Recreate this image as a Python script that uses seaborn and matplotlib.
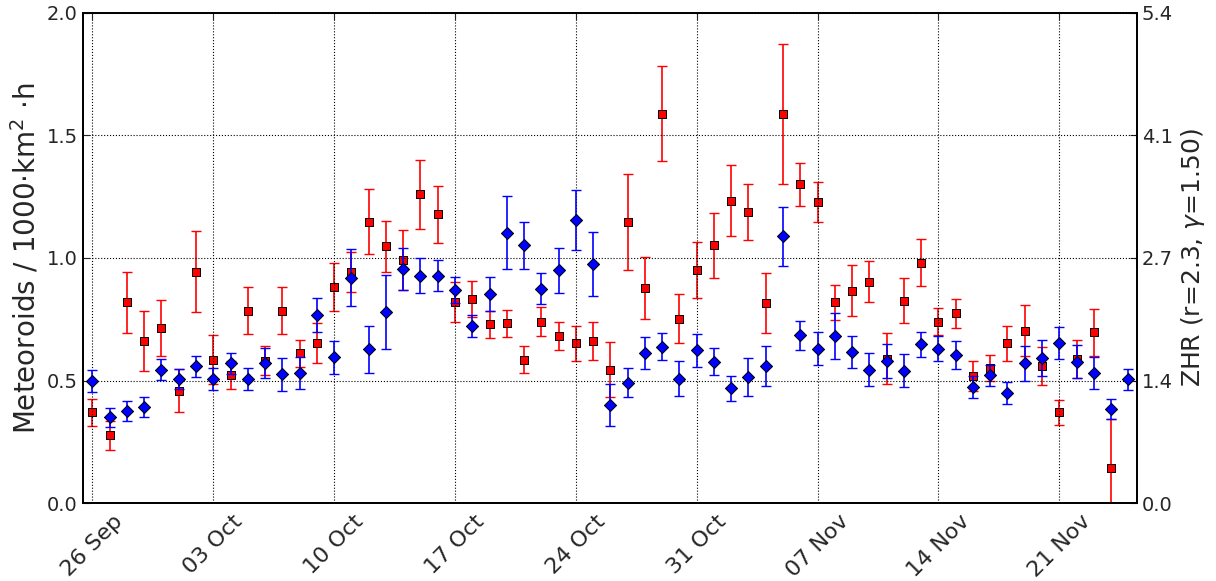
import numpy as np
import pandas as pd
import matplotlib
matplotlib.use("Agg")
import matplotlib.pyplot as plt
import matplotlib.dates as mdates
import seaborn as sns

# data: one value per day starting 26 Sep
start = "2013-09-26"
flux = [0.498, 0.350, 0.376, 0.392, 0.544, 0.507, 0.558, 0.507, 0.571, 0.507,
        0.571, 0.525, 0.531, 0.767, 0.595, 0.920, 0.627, 0.780, 0.955, 0.927,
        0.928, 0.868, 0.722, 0.853, 1.103, 1.052, 0.875, 0.950, 1.155, 0.974,
        0.401, 0.491, 0.611, 0.638, 0.507, 0.623, 0.577, 0.469, 0.514, 0.560,
        1.088, 0.684, 0.630, 0.680, 0.616, 0.544, 0.581, 0.540, 0.649, 0.630,
        0.605, 0.475, 0.522, 0.450, 0.570, 0.592, 0.652, 0.576, 0.532, 0.384, 0.505]
flux_err = [0.045, 0.038, 0.042, 0.039, 0.043, 0.041, 0.043, 0.044, 0.043, 0.045,
            0.060, 0.066, 0.065, 0.071, 0.067, 0.116, 0.095, 0.150, 0.084, 0.071,
            0.063, 0.053, 0.046, 0.071, 0.148, 0.095, 0.063, 0.091, 0.121, 0.131,
            0.086, 0.060, 0.065, 0.056, 0.071, 0.068, 0.054, 0.051, 0.079, 0.081,
            0.120, 0.058, 0.067, 0.094, 0.064, 0.067, 0.069, 0.067, 0.051, 0.052,
            0.058, 0.045, 0.043, 0.046, 0.072, 0.075, 0.065, 0.067, 0.065, 0.042, 0.044]
zhr = [1.00, 0.75, 2.21, 1.79, 1.93, 1.24, 2.55, 1.58, 1.41, 2.12,
       1.57, 2.12, 1.65, 1.76, 2.38, 2.55, 3.10, 2.83, 2.68, 3.40,
       3.18, 2.22, 2.25, 1.97, 1.98, 1.58, 2.00, 1.84, 1.76, 1.79,
       1.47, 3.10, 2.37, 4.29, 2.03, 2.57, 2.84, 3.33, 3.21, 2.20,
       4.29, 3.51, 3.32, 2.21, 2.34, 2.44, 1.59, 2.23, 2.65, 2.00,
       2.09, 1.40, 1.49, 1.76, 1.90, 1.51, 1.00, 1.59, 1.88, 0.39]
zhr_err = [0.15, 0.16, 0.34, 0.33, 0.31, 0.24, 0.45, 0.27, 0.15, 0.26,
           0.16, 0.26, 0.15, 0.22, 0.26, 0.22, 0.36, 0.28, 0.33, 0.38,
           0.31, 0.22, 0.20, 0.15, 0.15, 0.15, 0.16, 0.15, 0.19, 0.21,
           0.30, 0.53, 0.34, 0.52, 0.27, 0.31, 0.36, 0.39, 0.31, 0.33,
           0.77, 0.24, 0.22, 0.19, 0.28, 0.23, 0.28, 0.25, 0.26, 0.15,
           0.16, 0.16, 0.14, 0.19, 0.28, 0.21, 0.14, 0.21, 0.26, 0.54]
left_ticks = [0.0, 0.5, 1.0, 1.5, 2.0]
right_ticks = [0.0, 1.35, 2.7, 4.05, 5.4]
right_labels = ["0.0", "1.4", "2.7", "4.1", "5.4"]

dates_flux = pd.date_range(start, periods=len(flux), freq="D")
dates_zhr = pd.date_range(start, periods=len(zhr), freq="D")
week_ticks = pd.date_range(start, periods=9, freq="7D")

sns.set_style("white")
plt.rcParams['font.family'] = ['DejaVu Sans']

fig = plt.figure(figsize=(12.16, 5.81), dpi=100)
ax = fig.add_axes([0.068, 0.134, 0.867, 0.844])
ax2 = ax.twinx()

# red: ZHR on right axis
ax2.errorbar(dates_zhr, zhr, yerr=zhr_err, fmt='none', ecolor='red',
             elinewidth=1.2, capsize=3.5, capthick=1.0)
sns.scatterplot(x=dates_zhr, y=zhr, ax=ax2, marker='s', color='red',
                edgecolor='black', linewidth=0.7, s=34, zorder=3)

# blue: flux on left axis, drawn above
ax.errorbar(dates_flux, flux, yerr=flux_err, fmt='none', ecolor='blue',
            elinewidth=1.2, capsize=3.5, capthick=1.0)
sns.scatterplot(x=dates_flux, y=flux, ax=ax, marker='D', color='blue',
                edgecolor='black', linewidth=0.7, s=38, zorder=3)
ax.set_zorder(ax2.get_zorder() + 1)
ax.patch.set_visible(False)

x0 = pd.Timestamp(start) - pd.Timedelta(hours=13.5)
x1 = pd.Timestamp(start) + pd.Timedelta(days=60.5)
ax.set_xlim(x0, x1)
ax.set_ylim(0, 2.0)
ax2.set_ylim(0, 5.4)
ax.set_yticks(left_ticks)
ax.set_yticklabels([f"{t:.1f}" for t in left_ticks])
ax2.set_yticks(right_ticks)
ax2.set_yticklabels(right_labels)
ax.set_xticks(week_ticks)
ax.xaxis.set_major_formatter(mdates.DateFormatter("%d %b"))

ax.grid(True, color='black', linestyle=':', linewidth=0.8)
ax.tick_params(axis='y', direction='in', labelsize=14, length=5)
ax.tick_params(axis='x', direction='in', labelsize=16, length=5, top=True, pad=6)
ax2.tick_params(axis='y', direction='in', labelsize=14, length=5)
for lab in ax.get_xticklabels():
    lab.set_rotation(45)
    lab.set_ha('center')
for a in (ax, ax2):
    for sp in a.spines.values():
        sp.set_color('black')
        sp.set_linewidth(1.3)

ax.set_xlabel("")
ax.set_ylabel(r"Meteoroids / 1000$\cdot$km$^2$ $\cdot$h", fontsize=20)
ax2.set_ylabel(r"ZHR (r=2.3, $\gamma$=1.50)", fontsize=18)

fig.savefig("out.png", dpi=100)
